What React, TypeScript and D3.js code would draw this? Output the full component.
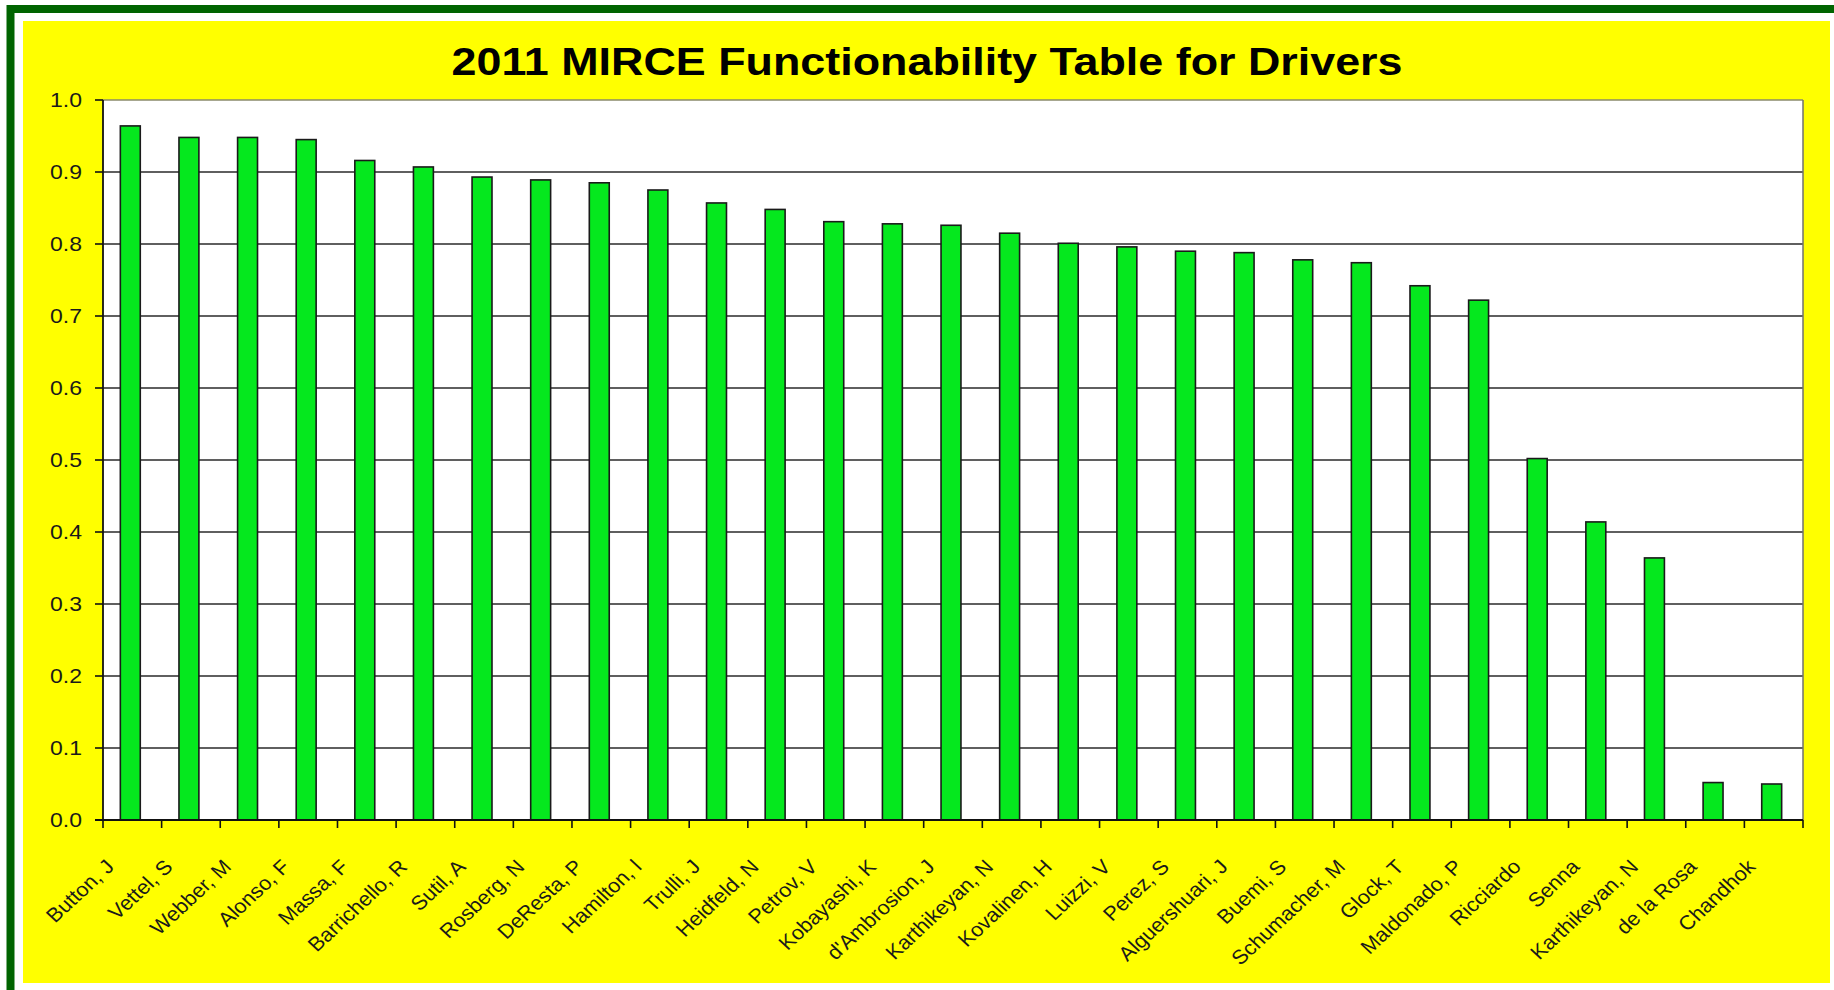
import React from "react";
import * as d3 from "d3";

const drivers = [
  "Button, J", "Vettel, S", "Webber, M", "Alonso, F", "Massa, F", "Barrichello, R",
  "Sutil, A", "Rosberg, N", "DeResta, P", "Hamilton, l", "Trulli, J", "Heidfeld, N",
  "Petrov, V", "Kobayashi, K", "d'Ambrosion, J", "Karthikeyan, N", "Kovalinen, H",
  "Luizzi, V", "Perez, S", "Alguershuari, J", "Buemi, S", "Schumacher, M", "Glock, T",
  "Maldonado, P", "Ricciardo", "Senna", "Karthikeyan, N", "de la Rosa", "Chandhok",
];

const functionability = [
  0.964, 0.948, 0.948, 0.945, 0.916, 0.907, 0.893, 0.889, 0.885, 0.875, 0.857, 0.848,
  0.831, 0.828, 0.826, 0.815, 0.801, 0.796, 0.790, 0.788, 0.778, 0.774, 0.742, 0.722,
  0.502, 0.414, 0.364, 0.052, 0.050,
];

const yTicks = [0, 0.1, 0.2, 0.3, 0.4, 0.5, 0.6, 0.7, 0.8, 0.9, 1.0];
const title = "2011 MIRCE Functionability Table for Drivers";

const W = 1834;
const H = 990;
const plot = { left: 103, right: 1803, top: 100, bottom: 820 };
const FONT = "Arial, 'Liberation Sans', Helvetica, sans-serif";
const SX = 1.15;

export default function App() {
  const idx = drivers.map((_, i) => i);
  const x = d3.scaleBand<number>().domain(idx).range([plot.left, plot.right]).padding(0);
  const y = d3.scaleLinear().domain([0, 1]).range([plot.bottom, plot.top]);
  const bw = x.bandwidth() * 0.34;
  const edges = d3.range(drivers.length + 1).map((i) => plot.left + i * x.step());

  return (
    <svg
      width={W}
      height={H}
      style={{ position: "absolute", left: 0, top: 0, background: "#ffffff" }}
    >
      <rect x={10.5} y={9} width={W + 20} height={H + 20} fill="#ffffff" stroke="#006400" strokeWidth={8} />
      <rect x={23} y={21} width={1807} height={962} fill="#ffff00" />
      <rect x={plot.left} y={plot.top} width={plot.right - plot.left} height={plot.bottom - plot.top} fill="#ffffff" />
      <text
        transform={`translate(927,75) scale(${SX},1)`}
        textAnchor="middle"
        fontFamily={FONT}
        fontWeight="bold"
        fontSize={39}
        fill="#000"
      >
        {title}
      </text>
      {yTicks.slice(1, -1).map((t) => (
        <line key={"g" + t} x1={plot.left} x2={plot.right} y1={y(t)} y2={y(t)} stroke="#2a2a2a" strokeWidth={1.6} />
      ))}
      <line x1={plot.left} x2={plot.right} y1={plot.top} y2={plot.top} stroke="#8a8a6a" strokeWidth={1.5} />
      <line x1={plot.right} x2={plot.right} y1={plot.top} y2={plot.bottom} stroke="#707070" strokeWidth={1.5} />
      {functionability.map((v, i) => {
        const cx = (x(i) as number) + x.bandwidth() / 2 - 2;
        return (
          <rect
            key={"b" + i}
            x={cx - bw / 2}
            y={y(v)}
            width={bw}
            height={y(0) - y(v)}
            fill="#05e81e"
            stroke="#1a1a1a"
            strokeWidth={1.6}
          />
        );
      })}
      <line x1={plot.left} x2={plot.left} y1={plot.top} y2={plot.bottom} stroke="#111" strokeWidth={1.8} />
      <line x1={plot.left - 8} x2={plot.right} y1={plot.bottom} y2={plot.bottom} stroke="#111" strokeWidth={1.8} />
      {yTicks.map((t) => (
        <g key={"yt" + t}>
          <line x1={plot.left - 8} x2={plot.left} y1={y(t)} y2={y(t)} stroke="#111" strokeWidth={1.6} />
          <text
            transform={`translate(82,${y(t) + 7}) scale(${SX},1)`}
            textAnchor="end"
            fontFamily={FONT}
            fontSize={20}
            fill="#1a1a1a"
          >
            {t.toFixed(1)}
          </text>
        </g>
      ))}
      {edges.map((e, i) => (
        <line key={"xt" + i} x1={e} x2={e} y1={plot.bottom} y2={plot.bottom + 8} stroke="#111" strokeWidth={1.6} />
      ))}
      {drivers.map((d, i) => {
        const cx = (x(i) as number) + x.bandwidth() / 2;
        return (
          <text
            key={"xl" + i}
            transform={`translate(${cx - 17},868) scale(1.08,1) rotate(-45)`}
            textAnchor="end"
            fontFamily={FONT}
            fontSize={20}
            fill="#1a1a1a"
          >
            {d}
          </text>
        );
      })}
    </svg>
  );
}
